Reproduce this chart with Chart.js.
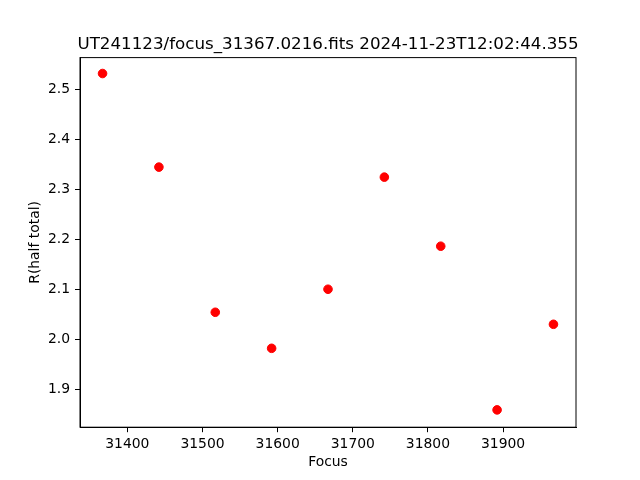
<!DOCTYPE html>
<html>
<head>
<meta charset="utf-8">
<title>focus</title>
<script src="https://cdn.jsdelivr.net/npm/chart.js@4.4.1/dist/chart.umd.min.js"></script>
<style>
    html, body { margin: 0; padding: 0; background: #ffffff; }
    #focusChart { display: block; }
</style>
</head>
<body>
<canvas id="focusChart" width="640" height="480"></canvas>
<script>
// Datos
const focusValues = [31367, 31442, 31517, 31592, 31667, 31742, 31817, 31892, 31967];
const radiusValues = [2.531, 2.344, 2.054, 1.982, 2.100, 2.324, 2.186, 1.859, 2.030];
const xTicks = [31400, 31500, 31600, 31700, 31800, 31900];
const yTicks = [1.9, 2.0, 2.1, 2.2, 2.3, 2.4, 2.5];
const chartTitle = 'UT241123/focus_31367.0216.fits 2024-11-23T12:02:44.355';

const fontFamily = '"DejaVu Sans", sans-serif';

// Marco completo y título centrado sobre el área de datos (como matplotlib)
const frameAndTitle = {
    id: 'frameAndTitle',
    afterDraw(chart) {
        const ctx = chart.ctx;
        const area = chart.chartArea;
        ctx.save();
        ctx.strokeStyle = '#000000';
        ctx.lineWidth = 1;
        ctx.strokeRect(area.left, area.top, area.right - area.left, area.bottom - area.top);
        ctx.fillStyle = '#000000';
        ctx.font = '16.7px ' + fontFamily;
        ctx.textAlign = 'center';
        ctx.textBaseline = 'alphabetic';
        ctx.fillText(chartTitle, (area.left + area.right) / 2, area.top - 8.3);
        ctx.restore();
    }
};

const ctx = document.getElementById('focusChart').getContext('2d');
const focusChart = new Chart(ctx, {
    type: 'scatter',
    data: {
        datasets: [{
            data: focusValues.map((x, i) => ({ x: x, y: radiusValues[i] })),
            backgroundColor: '#ff0000',
            borderColor: '#ff0000',
            borderWidth: 1,
            pointRadius: 4.3,
            pointHoverRadius: 4.3
        }]
    },
    options: {
        responsive: false,
        animation: false,
        layout: {
            padding: { left: 0, right: 64, top: 57.6, bottom: 0 }
        },
        plugins: {
            legend: { display: false },
            title: { display: false },
            tooltip: { enabled: false }
        },
        scales: {
            x: {
                type: 'linear',
                min: 31337,
                max: 31997,
                afterBuildTicks: scale => { scale.ticks = xTicks.map(v => ({ value: v })); },
                afterFit: scale => { scale.height = 52.8; },
                grid: {
                    drawOnChartArea: false,
                    drawTicks: true,
                    tickLength: 5,
                    tickWidth: 1,
                    tickColor: '#000000'
                },
                border: { display: true, color: '#000000', width: 1 },
                ticks: {
                    padding: 4,
                    color: '#000000',
                    font: { family: fontFamily, size: 13.9 },
                    callback: value => String(value)
                },
                title: {
                    display: true,
                    text: 'Focus',
                    color: '#000000',
                    font: { family: fontFamily, size: 13.9 },
                    padding: { top: 0, bottom: 9 }
                }
            },
            y: {
                type: 'linear',
                min: 1.8244,
                max: 2.5628,
                afterBuildTicks: scale => { scale.ticks = yTicks.map(v => ({ value: v })); },
                afterFit: scale => { scale.width = 80; },
                grid: {
                    drawOnChartArea: false,
                    drawTicks: true,
                    tickLength: 5,
                    tickWidth: 1,
                    tickColor: '#000000'
                },
                border: { display: true, color: '#000000', width: 1 },
                ticks: {
                    padding: 5,
                    color: '#000000',
                    font: { family: fontFamily, size: 13.9 },
                    callback: value => value.toFixed(1)
                },
                title: {
                    display: true,
                    text: 'R(half total)',
                    color: '#000000',
                    font: { family: fontFamily, size: 13.9 },
                    padding: { top: 27, bottom: 0 }
                }
            }
        }
    },
    plugins: [frameAndTitle]
});
</script>
</body>
</html>
